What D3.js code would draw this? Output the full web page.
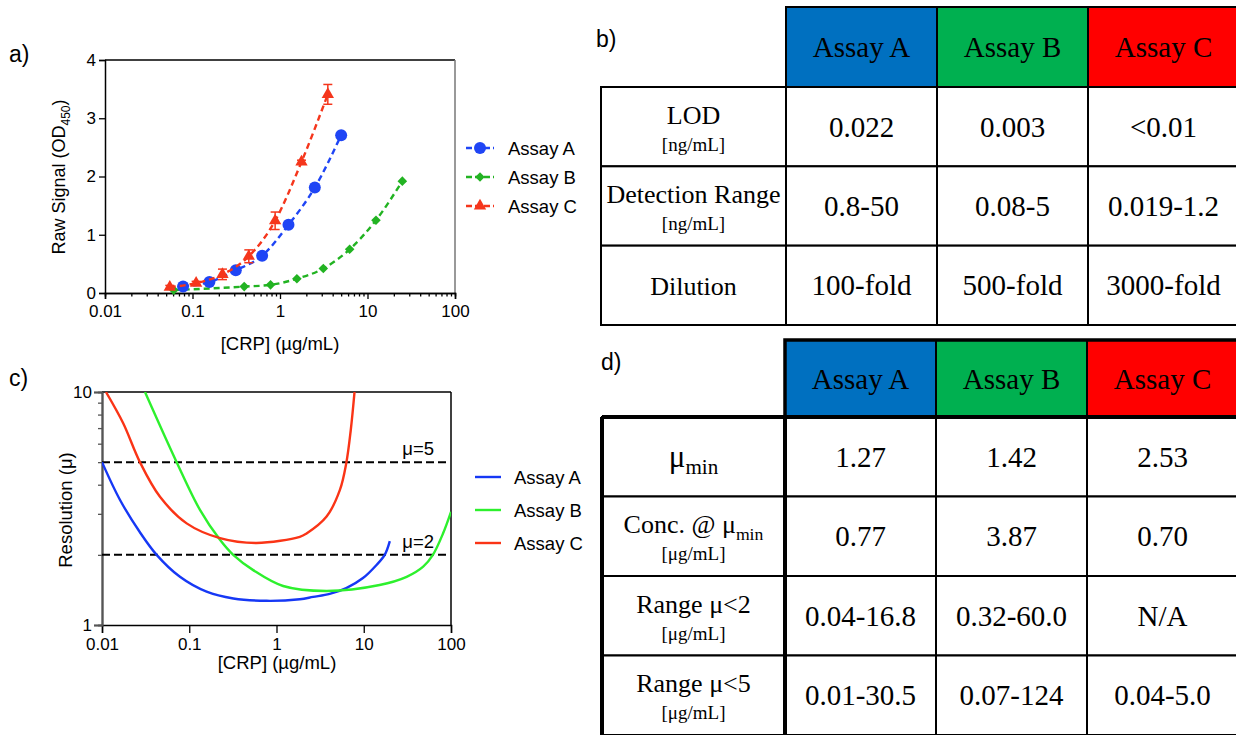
<!DOCTYPE html>
<meta charset="utf-8">
<script src="https://d3js.org/d3.v7.min.js"></script>
<style>
  body { margin: 0; background: #fff; }
  svg text { font-family: "Liberation Sans", Arial, sans-serif; fill: #000; }
  .tbl text { font-family: "Liberation Serif", "Times New Roman", serif; }
</style>
<div id="chart"></div>
<script>
    // ---- panel a : raw signal vs concentration ----
    const assays = ["Assay A", "Assay B", "Assay C"];
    const concA = [0.078, 0.156, 0.3125, 0.625, 1.25, 2.5, 5];
    const sigA  = [0.11, 0.19, 0.39, 0.64, 1.17, 1.81, 2.71];
    const concB = [0.061, 0.39, 0.78, 1.56, 3.125, 6.25, 12.5, 25];
    const sigB  = [0.05, 0.11, 0.14, 0.245, 0.42, 0.75, 1.25, 1.92];
    const concC = [0.055, 0.11, 0.22, 0.44, 0.88, 1.76, 3.52];
    const sigC  = [0.10, 0.17, 0.32, 0.63, 1.24, 2.25, 3.41];
    const sdC   = [0.03, 0.03, 0.09, 0.11, 0.15, 0.03, 0.17];
    const decades = [0.01, 0.1, 1, 10, 100];
    const decadeLabels = ["0.01", "0.1", "1", "10", "100"];
    const signalTicks = [0, 1, 2, 3, 4];

    // ---- panel c : resolution curves ----
    const resConcA = [0.01, 0.0161, 0.0272, 0.0423, 0.0782, 0.158, 0.32, 0.77, 1.85, 2.63, 4.07, 6.3, 9.8, 14.0, 17.4, 19.9];
    const resA     = [5.0, 3.44, 2.5, 2.0, 1.61, 1.39, 1.30, 1.27, 1.29, 1.32, 1.36, 1.44, 1.59, 1.81, 2.0, 2.29];
    const resConcB = [0.0311, 0.0717, 0.1327, 0.225, 0.319, 0.541, 1.19, 3.75, 15.2, 31, 48, 62, 81, 100];
    const resB     = [10, 5, 3.12, 2.32, 2.0, 1.72, 1.47, 1.40, 1.485, 1.61, 1.78, 2.0, 2.47, 3.06];
    const resConcC = [0.0111, 0.0175, 0.0272, 0.0462, 0.0934, 0.225, 0.59, 1.85, 2.21, 3.75, 5.33, 6.3, 7.1, 7.84];
    const resC     = [10, 7.34, 5.0, 3.55, 2.73, 2.36, 2.25, 2.39, 2.47, 2.92, 3.80, 4.94, 6.87, 10];
    const thresholds = [5, 2];
    const resTicks = [1, 10];

    // ---- tables ----
    const headerColors = ["#0070C0", "#00B050", "#FF0000"];
    const tblBLabels = ["LOD", "Detection Range", "Dilution"];
    const tblBUnits  = ["[ng/mL]", "[ng/mL]", ""];
    const tblBValues = [["0.022", "0.003", "<0.01"],
                        ["0.8-50", "0.08-5", "0.019-1.2"],
                        ["100-fold", "500-fold", "3000-fold"]];
    const tblDLabels = ["μ|min", "Conc. @ μ|min", "Range μ<2", "Range μ<5"];
    const tblDUnits  = ["", "[μg/mL]", "[μg/mL]", "[μg/mL]"];
    const tblDValues = [["1.27", "1.42", "2.53"],
                        ["0.77", "3.87", "0.70"],
                        ["0.04-16.8", "0.32-60.0", "N/A"],
                        ["0.01-30.5", "0.07-124", "0.04-5.0"]];

    const colA = ["#1f45f5", "#22b322", "#f5361c"];
    const colC = ["#1638f5", "#2df02d", "#fa3416"];

    const svg = d3.select("#chart").append("svg")
        .attr("width", 1236).attr("height", 735);

    // panel letters
    svg.append("text").attr("x", 9).attr("y", 62).attr("font-size", 23).text("a)");
    svg.append("text").attr("x", 9).attr("y", 386).attr("font-size", 23).text("c)");
    svg.append("text").attr("x", 596).attr("y", 47).attr("font-size", 23).text("b)");
    svg.append("text").attr("x", 601).attr("y", 370).attr("font-size", 23).text("d)");

    function styleAxis(g, size) {
        g.attr("font-family", null).attr("font-size", null);
        g.selectAll("text").attr("font-size", size).style("fill", "#000");
        g.selectAll("line").attr("stroke", "#000").attr("stroke-width", 1.3);
        g.select(".domain").attr("stroke", "#000").attr("stroke-width", 1.5);
    }

    // ================= panel a =================
    const xA = d3.scaleLog().domain([0.01, 100]).range([105, 455]);
    const yA = d3.scaleLinear().domain([0, 4]).range([293, 60]);

    // box
    svg.append("line").attr("x1", xA(0.01)).attr("x2", xA(100)).attr("y1", yA(4)).attr("y2", yA(4))
        .attr("stroke", "#000").attr("stroke-width", 1.3);
    svg.append("line").attr("x1", xA(100)).attr("x2", xA(100)).attr("y1", yA(4)).attr("y2", yA(0))
        .attr("stroke", "#777").attr("stroke-width", 1.5);

    const minorA = xA.ticks().filter(d => !decades.includes(+d.toPrecision(3)));
    const gxAm = svg.append("g").attr("transform", `translate(0,${yA(0)})`)
        .call(d3.axisBottom(xA).tickValues(minorA).tickSize(3.5).tickFormat(""));
    styleAxis(gxAm, 17);
    const gxA = svg.append("g").attr("transform", `translate(0,${yA(0)})`)
        .call(d3.axisBottom(xA).tickValues(decades).tickSize(6).tickPadding(6)
            .tickFormat((d, i) => decadeLabels[i]));
    styleAxis(gxA, 17);
    const gyA = svg.append("g").attr("transform", `translate(${xA(0.01)},0)`)
        .call(d3.axisLeft(yA).tickValues(signalTicks).tickSize(6).tickPadding(3).tickFormat(d3.format("d")));
    styleAxis(gyA, 17);

    svg.append("text").attr("x", 280).attr("y", 350).attr("text-anchor", "middle")
        .attr("font-size", 18.5).text("[CRP] (µg/mL)");
    const ytA = svg.append("text").attr("transform", "translate(65,177) rotate(-90)")
        .attr("text-anchor", "middle").attr("font-size", 18);
    ytA.append("tspan").text("Raw Signal (OD");
    ytA.append("tspan").attr("font-size", 12).attr("dy", 5).text("450");
    ytA.append("tspan").attr("dy", -5).text(")");

    const seriesA = [
        {conc: concB, sig: sigB, sd: null, color: colA[1], sym: "diamond"},
        {conc: concA, sig: sigA, sd: null, color: colA[0], sym: "circle"},
        {conc: concC, sig: sigC, sd: sdC, color: colA[2], sym: "triangle"}
    ];

    function marker(g, type, color) {
        if (type === "circle") {
            return g.append("circle").attr("r", 6).attr("fill", color);
        }
        if (type === "diamond") {
            return g.append("path").attr("d", d3.symbol().type(d3.symbolSquare).size(46)())
                .attr("fill", color).attr("transform", "rotate(45)");
        }
        return g.append("path").attr("d", d3.symbol().type(d3.symbolTriangle).size(66)())
            .attr("fill", color);
    }

    const lineA = d3.line().x(d => xA(d[0])).y(d => yA(d[1])).curve(d3.curveMonotoneX);

    seriesA.forEach(s => {
        const pts = s.conc.map((c, i) => [c, s.sig[i]]);
        svg.append("path").attr("d", lineA(pts)).attr("fill", "none")
            .attr("stroke", s.color).attr("stroke-width", 2.4).attr("stroke-dasharray", "6,4");
        if (s.sd) {
            pts.forEach((p, i) => {
                const x = xA(p[0]), lo = yA(p[1] - s.sd[i]), hi = yA(p[1] + s.sd[i]);
                const eg = svg.append("g").attr("stroke", s.color).attr("stroke-width", 1.5);
                eg.append("line").attr("x1", x).attr("x2", x).attr("y1", lo).attr("y2", hi);
                eg.append("line").attr("x1", x - 4.5).attr("x2", x + 4.5).attr("y1", lo).attr("y2", lo);
                eg.append("line").attr("x1", x - 4.5).attr("x2", x + 4.5).attr("y1", hi).attr("y2", hi);
            });
        }
        pts.forEach(p => {
            const g = svg.append("g").attr("transform", `translate(${xA(p[0])},${yA(p[1])})`);
            marker(g, s.sym, s.color);
        });
    });

    // legend a
    const legA = [{c: colA[0], s: "circle"}, {c: colA[1], s: "diamond"}, {c: colA[2], s: "triangle"}];
    legA.forEach((l, i) => {
        const y = 148 + i * 29;
        svg.append("line").attr("x1", 466).attr("x2", 494).attr("y1", y).attr("y2", y)
            .attr("stroke", l.c).attr("stroke-width", 2.4).attr("stroke-dasharray", "6,3");
        const g = svg.append("g").attr("transform", `translate(480,${y})`);
        marker(g, l.s, l.c);
        svg.append("text").attr("x", 508).attr("y", y + 7).attr("font-size", 18.5).text(assays[i]);
    });

    // ================= panel c =================
    const xC = d3.scaleLog().domain([0.01, 100]).range([102, 451]);
    const yC = d3.scaleLog().domain([1, 10]).range([625, 392]);

    svg.append("defs").append("clipPath").attr("id", "clipC").append("rect")
        .attr("x", xC(0.01)).attr("y", yC(10)).attr("width", xC(100) - xC(0.01)).attr("height", yC(1) - yC(10));

    svg.append("line").attr("x1", xC(0.01)).attr("x2", xC(100)).attr("y1", yC(10)).attr("y2", yC(10))
        .attr("stroke", "#000").attr("stroke-width", 1.5);
    svg.append("line").attr("x1", xC(100)).attr("x2", xC(100)).attr("y1", yC(10)).attr("y2", yC(1))
        .attr("stroke", "#000").attr("stroke-width", 1.5);

    const gxC = svg.append("g").attr("transform", `translate(0,${yC(1)})`)
        .call(d3.axisBottom(xC).tickValues(decades).tickSize(8).tickPadding(5)
            .tickFormat((d, i) => decadeLabels[i]));
    styleAxis(gxC, 17);
    const minorC = yC.ticks().filter(d => d !== 1 && d !== 10);
    const gyCm = svg.append("g").attr("transform", `translate(${xC(0.01)},0)`)
        .call(d3.axisLeft(yC).tickValues(minorC).tickSize(4).tickFormat(""));
    styleAxis(gyCm, 17);
    const gyC = svg.append("g").attr("transform", `translate(${xC(0.01)},0)`)
        .call(d3.axisLeft(yC).tickValues(resTicks).tickSize(8).tickPadding(2).tickFormat(d3.format("d")));
    styleAxis(gyC, 17);
    gyC.select(".domain").attr("stroke", "#555").attr("stroke-width", 2);
    gyC.selectAll("line").attr("stroke", "#555");
    gyCm.selectAll("line").attr("stroke", "#555");

    svg.append("text").attr("x", 277).attr("y", 669).attr("text-anchor", "middle")
        .attr("font-size", 18.5).text("[CRP] (µg/mL)");
    svg.append("text").attr("transform", "translate(72,510) rotate(-90)")
        .attr("text-anchor", "middle").attr("font-size", 18.5).text("Resolution (μ)");

    thresholds.forEach(t => {
        svg.append("line").attr("x1", xC(0.01)).attr("x2", xC(100) - 2).attr("y1", yC(t)).attr("y2", yC(t))
            .attr("stroke", "#000").attr("stroke-width", 2).attr("stroke-dasharray", "8,4");
        svg.append("text").attr("x", 434).attr("y", yC(t) - 7).attr("text-anchor", "end")
            .attr("font-size", 18.5).text("μ=" + t);
    });

    const lineC = d3.line().x(d => xC(d[0])).y(d => yC(d[1])).curve(d3.curveCatmullRom.alpha(0.5));
    const resSeries = [[resConcA, resA], [resConcB, resB], [resConcC, resC]];
    resSeries.forEach((s, k) => {
        const pts = s[0].map((c, i) => [c, s[1][i]]);
        svg.append("path").attr("clip-path", "url(#clipC)").attr("d", lineC(pts)).attr("fill", "none")
            .attr("stroke", colC[k]).attr("stroke-width", 2.4);
    });

    assays.forEach((a, i) => {
        const y = 477 + i * 33;
        svg.append("line").attr("x1", 475).attr("x2", 501).attr("y1", y).attr("y2", y)
            .attr("stroke", colC[i]).attr("stroke-width", 2.4);
        svg.append("text").attr("x", 514).attr("y", y + 7).attr("font-size", 18.5).text(a);
    });

    // ================= tables =================
    function richText(g, x, y, str, size) {
        const t = g.append("text").attr("x", x).attr("y", y).attr("text-anchor", "middle").attr("font-size", size);
        const parts = str.split("|");
        t.append("tspan").text(parts[0]);
        if (parts[1]) t.append("tspan").attr("font-size", size * 0.68).attr("dy", 7).text(parts[1]);
        return t;
    }

    function drawTable(o) {
        const g = svg.append("g").attr("class", "tbl");
        const cx = d3.scaleBand().domain(assays).range([o.labelRight, o.labelRight + 3 * 151]);
        const ry = d3.scaleBand().domain(o.labels).range([o.headBottom, o.bottom]);
        // header cells
        assays.forEach((a, i) => {
            g.append("rect").attr("x", cx(a)).attr("y", o.top).attr("width", cx.bandwidth())
                .attr("height", o.headBottom - o.top).attr("fill", headerColors[i])
                .attr("stroke", "#000").attr("stroke-width", o.sw);
            g.append("text").attr("x", cx(a) + cx.bandwidth() / 2)
                .attr("y", (o.top + o.headBottom) / 2 + 10).attr("text-anchor", "middle")
                .attr("font-size", 29).text(a);
        });
        // body
        o.labels.forEach((lab, r) => {
            const y0 = ry(lab), h = ry.bandwidth(), mid = y0 + h / 2;
            g.append("rect").attr("x", o.left).attr("y", y0).attr("width", o.labelRight - o.left)
                .attr("height", h).attr("fill", "#fff").attr("stroke", "#000").attr("stroke-width", o.sw);
            const lx = (o.left + o.labelRight) / 2;
            if (o.units[r]) {
                richText(g, lx, mid - 3, lab, 26);
                richText(g, lx, mid + 24, o.units[r], 19);
            } else {
                richText(g, lx, mid + 10, lab, lab.includes("|") ? 31 : 26);
            }
            assays.forEach((a, i) => {
                g.append("rect").attr("x", cx(a)).attr("y", y0).attr("width", cx.bandwidth())
                    .attr("height", h).attr("fill", "#fff").attr("stroke", "#000").attr("stroke-width", o.sw);
                g.append("text").attr("x", cx(a) + cx.bandwidth() / 2)
                    .attr("y", mid + 10).attr("text-anchor", "middle").attr("font-size", 29)
                    .text(o.values[r][i]);
            });
        });
        if (o.thick) {
            g.append("rect").attr("x", o.labelRight).attr("y", o.top).attr("width", 3 * 151 + 4)
                .attr("height", o.headBottom - o.top).attr("fill", "none").attr("stroke", "#000").attr("stroke-width", 3.5);
            g.append("line").attr("x1", o.left).attr("x2", 1240).attr("y1", o.headBottom).attr("y2", o.headBottom)
                .attr("stroke", "#000").attr("stroke-width", 4);
            [o.left, o.labelRight].forEach(x => g.append("line").attr("x1", x).attr("x2", x)
                .attr("y1", o.headBottom).attr("y2", o.bottom).attr("stroke", "#000").attr("stroke-width", 4));
        }
    }

    drawTable({left: 601, labelRight: 786, top: 7, headBottom: 87, bottom: 325, sw: 2,
        labels: tblBLabels, units: tblBUnits, values: tblBValues, thick: false});
    drawTable({left: 602, labelRight: 785, top: 340, headBottom: 417, bottom: 735, sw: 2,
        labels: tblDLabels, units: tblDUnits, values: tblDValues, thick: true});
</script>
